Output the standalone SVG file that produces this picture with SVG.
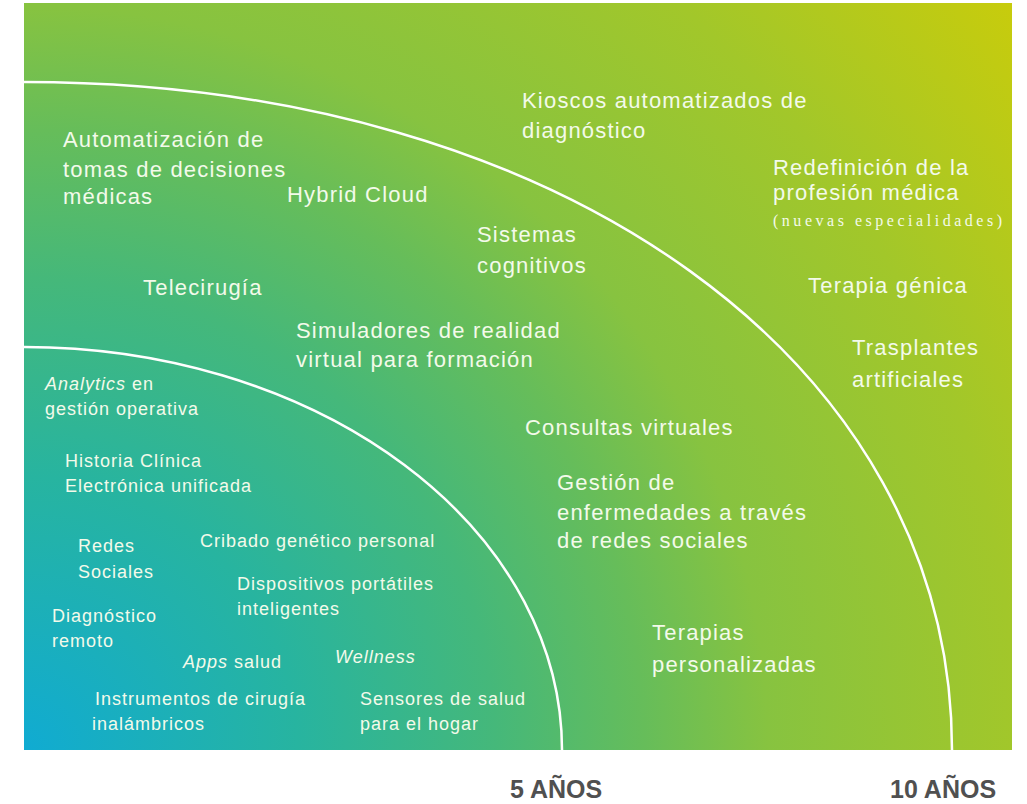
<svg xmlns="http://www.w3.org/2000/svg" width="1027" height="804" viewBox="0 0 1027 804">
  <defs>
    <radialGradient id="bg" gradientUnits="userSpaceOnUse" cx="24" cy="750" r="1240">
      <stop offset="0" stop-color="#10abd2"/>
      <stop offset="0.22" stop-color="#27b4a0"/>
      <stop offset="0.38" stop-color="#45b87a"/>
      <stop offset="0.5" stop-color="#66bd5a"/>
      <stop offset="0.6" stop-color="#87c340"/>
      <stop offset="0.8" stop-color="#a2c72a"/>
      <stop offset="1" stop-color="#c8cc0c"/>
    </radialGradient>
  </defs>
  <style>
    .t { font-family: "Liberation Sans", Arial, sans-serif; fill: #f3faea; font-size: 22px; letter-spacing: 1.2px; }
    .s { font-size: 18px; letter-spacing: 1px; }
    .i { font-style: italic; }
    .sm { font-family: "Liberation Serif", "Times New Roman", serif; fill: #f3faea; font-size: 16px; }
    .yr { font-family: "Liberation Sans", Arial, sans-serif; fill: #505050; font-size: 25px; font-weight: bold; }
    .ring { fill: none; stroke: #ffffff; stroke-width: 2.5; }
  </style>
  <rect x="24" y="3" width="988" height="747" fill="url(#bg)"/>
  <g id="rings">
    <path class="ring" d="M24,82 C562,82 952,363 952,750"/>
    <path class="ring" d="M24,347 A538,403 0 0 1 562,750"/>
  </g>
  <g id="kioscos"><text class="t" x="522" y="108">Kioscos automatizados de</text><text class="t" x="522" y="138">diagnóstico</text></g>
  <g id="redefinicion"><text class="t" x="773" y="175">Redefinición de la</text><text class="t" x="773" y="200">profesión médica</text><text class="sm" x="773" y="226" textLength="229" lengthAdjust="spacing">(nuevas especialidades)</text></g>
  <g id="terapia-genica"><text class="t" x="808" y="293">Terapia génica</text></g>
  <g id="trasplantes"><text class="t" x="852" y="355">Trasplantes</text><text class="t" x="852" y="387">artificiales</text></g>
  <g id="automatizacion"><text class="t" x="63" y="147">Automatización de</text><text class="t" x="63" y="177">tomas de decisiones</text><text class="t" x="63" y="204">médicas</text></g>
  <g id="hybrid-cloud"><text class="t" x="287" y="202">Hybrid Cloud</text></g>
  <g id="sistemas"><text class="t" x="477" y="242">Sistemas</text><text class="t" x="477" y="273">cognitivos</text></g>
  <g id="telecirugia"><text class="t" x="143" y="295">Telecirugía</text></g>
  <g id="simuladores"><text class="t" x="296" y="338">Simuladores de realidad</text><text class="t" x="296" y="367">virtual para formación</text></g>
  <g id="consultas"><text class="t" x="525" y="435">Consultas virtuales</text></g>
  <g id="gestion"><text class="t" x="557" y="490">Gestión de</text><text class="t" x="557" y="520">enfermedades a través</text><text class="t" x="557" y="548">de redes sociales</text></g>
  <g id="terapias"><text class="t" x="652" y="640">Terapias</text><text class="t" x="652" y="672">personalizadas</text></g>
  <g id="analytics"><text class="t s" x="45" y="390"><tspan class="i">Analytics</tspan> en</text><text class="t s" x="45" y="415">gestión operativa</text></g>
  <g id="historia"><text class="t s" x="65" y="467">Historia Clínica</text><text class="t s" x="65" y="492">Electrónica unificada</text></g>
  <g id="redes"><text class="t s" x="78" y="552">Redes</text><text class="t s" x="78" y="578">Sociales</text></g>
  <g id="cribado"><text class="t s" x="200" y="547">Cribado genético personal</text></g>
  <g id="dispositivos"><text class="t s" x="237" y="590">Dispositivos portátiles</text><text class="t s" x="237" y="615">inteligentes</text></g>
  <g id="diagnostico"><text class="t s" x="52" y="622">Diagnóstico</text><text class="t s" x="52" y="647">remoto</text></g>
  <g id="apps"><text class="t s" x="183" y="668"><tspan class="i">Apps</tspan> salud</text></g>
  <g id="wellness"><text class="t s i" x="335" y="663">Wellness</text></g>
  <g id="instrumentos"><text class="t s" x="95" y="705">Instrumentos de cirugía</text><text class="t s" x="92" y="730">inalámbricos</text></g>
  <g id="sensores"><text class="t s" x="360" y="705">Sensores de salud</text><text class="t s" x="360" y="730">para el hogar</text></g>
  <g id="labels"><text class="yr" x="510" y="798">5 AÑOS</text><text class="yr" x="890" y="798">10 AÑOS</text></g>
</svg>
